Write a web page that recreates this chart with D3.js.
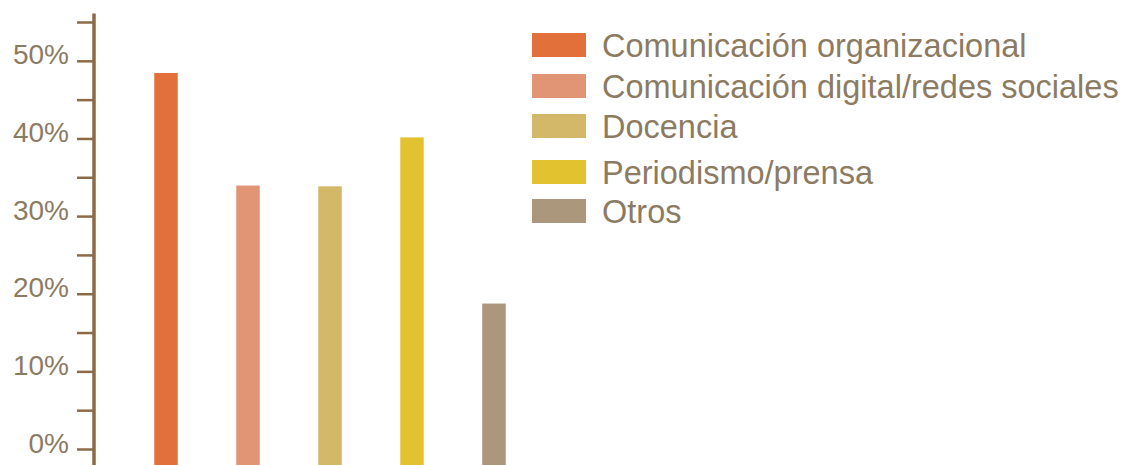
<!DOCTYPE html>
<html>
<head>
<meta charset="utf-8">
<script src="https://cdn.jsdelivr.net/npm/d3@7"></script>
<style>
  html, body { margin: 0; padding: 0; background: #ffffff; }
  svg { display: block; }
  text { font-family: "Liberation Sans", Arial, sans-serif; }
</style>
</head>
<body>
<svg id="chart" width="1124" height="465"></svg>
<script>
// Áreas de desempeño profesional (% de respuestas)
const categories = [
  "Comunicación organizacional",
  "Comunicación digital/redes sociales",
  "Docencia",
  "Periodismo/prensa",
  "Otros"
];
const values = [48.5, 34.0, 33.9, 40.2, 18.8];
const colors = ["#e2703a", "#e29574", "#d4b86a", "#e3c22f", "#ab977b"];
const majorTicks = [0, 10, 20, 30, 40, 50];
const minorTicks = [5, 15, 25, 35, 45, 55];

const W = 1124, H = 465;
const svg = d3.select("#chart");

const axisColor = "#8c6a46";
const textColor = "#8c7b63";

const y = d3.scaleLinear().domain([0, 55]).range([449.5, 22.5]);
const x = d3.scalePoint().domain(categories).range([166, 494]);
const barW = 23.5;

// Barras (se prolongan hasta el borde inferior)
svg.append("g")
  .selectAll("rect")
  .data(categories)
  .join("rect")
  .attr("x", d => x(d) - barW / 2)
  .attr("y", (d, i) => y(values[i]))
  .attr("width", barW)
  .attr("height", (d, i) => H - y(values[i]))
  .attr("fill", (d, i) => colors[i]);

// Eje vertical
const axisX = 94;
const axis = svg.append("g");
axis.append("line")
  .attr("x1", axisX).attr("x2", axisX)
  .attr("y1", y(55) - 9).attr("y2", H)
  .attr("stroke", axisColor)
  .attr("stroke-width", 3.5);

const allTicks = majorTicks.concat(minorTicks);
axis.selectAll("line.tick")
  .data(allTicks)
  .join("line")
  .attr("class", "tick")
  .attr("x1", 77).attr("x2", axisX)
  .attr("y1", d => y(d)).attr("y2", d => y(d))
  .attr("stroke", axisColor)
  .attr("stroke-width", 2.5);

axis.selectAll("text")
  .data(majorTicks)
  .join("text")
  .attr("x", 69)
  .attr("y", d => y(d) + 3)
  .attr("text-anchor", "end")
  .attr("fill", textColor)
  .attr("font-size", 28)
  .text(d => d + "%");

// Leyenda
const legendY = [45, 86, 126, 172, 211];
const legend = svg.append("g")
  .selectAll("g")
  .data(categories)
  .join("g")
  .attr("transform", (d, i) => `translate(532, ${legendY[i]})`);

legend.append("rect")
  .attr("x", 0)
  .attr("y", -12)
  .attr("width", 54)
  .attr("height", 24)
  .attr("fill", (d, i) => colors[i]);

legend.append("text")
  .attr("x", 70)
  .attr("y", 11.5)
  .attr("fill", textColor)
  .attr("font-size", 32.5)
  .text(d => d);
</script>
</body>
</html>
